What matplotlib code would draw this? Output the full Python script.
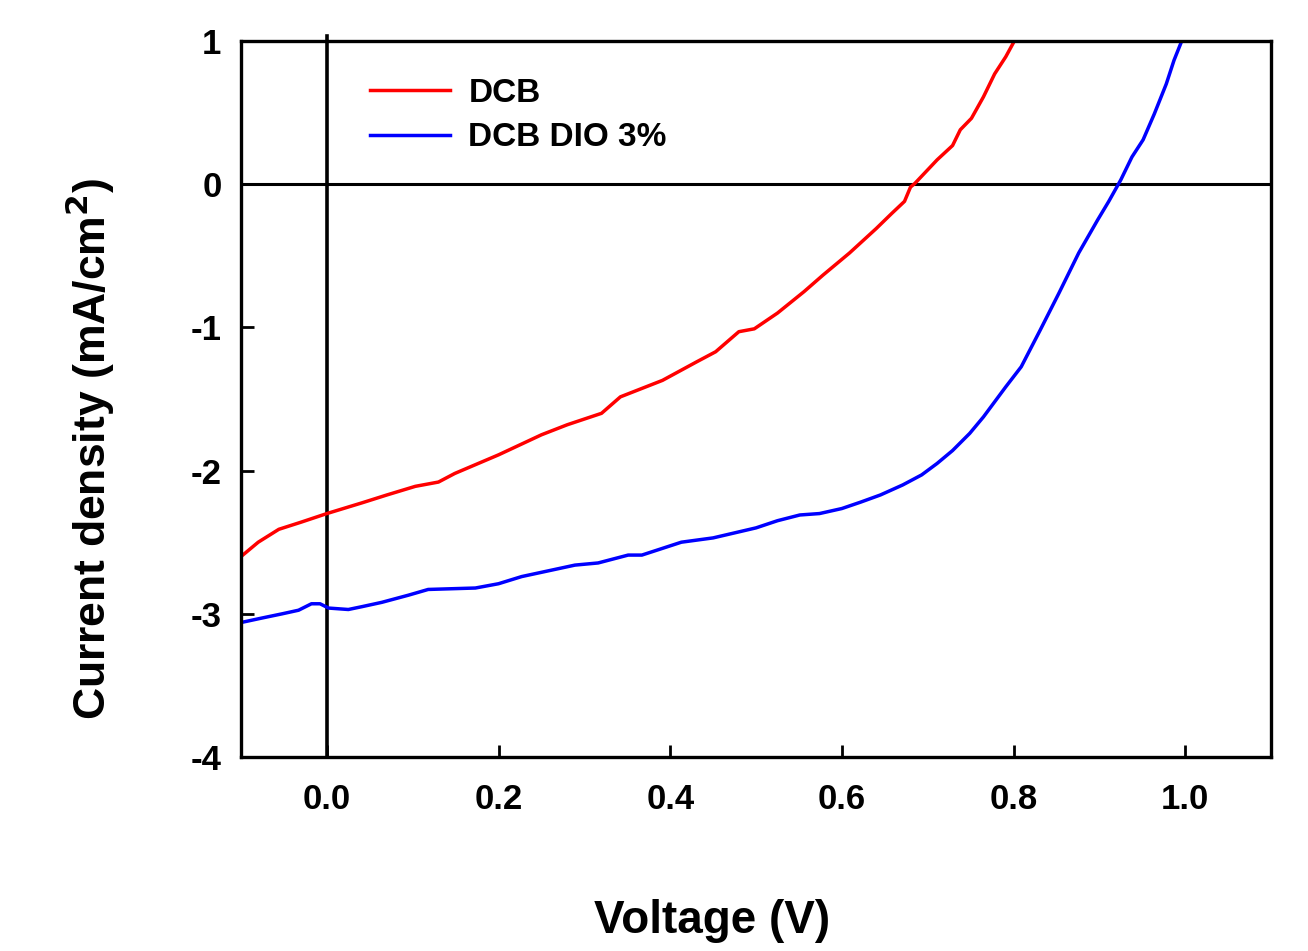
import matplotlib
matplotlib.use('Agg')
import matplotlib.pyplot as plt
import numpy as np

# J-V curves
v_dcb = [-0.100, -0.080, -0.056, -0.030, 0.000, 0.041, 0.070, 0.103, 0.130, 0.149,
         0.200, 0.250, 0.280, 0.320, 0.342, 0.391, 0.431, 0.453, 0.480, 0.498,
         0.525, 0.556, 0.578, 0.609, 0.640, 0.658, 0.673, 0.680, 0.685, 0.711,
         0.729, 0.738, 0.751, 0.765, 0.778, 0.791, 0.801]
j_dcb = [-2.60, -2.50, -2.41, -2.36, -2.30, -2.225, -2.17, -2.11, -2.08, -2.02,
         -1.89, -1.75, -1.68, -1.60, -1.485, -1.37, -1.24, -1.17, -1.03, -1.01,
         -0.90, -0.75, -0.635, -0.48, -0.31, -0.205, -0.12, -0.02, 0.005, 0.17,
         0.27, 0.38, 0.46, 0.61, 0.77, 0.89, 1.00]

v_dio = [-0.097, -0.076, -0.052, -0.033, -0.018, -0.008, 0.002, 0.025, 0.041, 0.064,
         0.095, 0.118, 0.173, 0.200, 0.227, 0.258, 0.289, 0.316, 0.351, 0.367,
         0.390, 0.413, 0.450, 0.500, 0.525, 0.551, 0.574, 0.600, 0.622, 0.645,
         0.671, 0.693, 0.711, 0.729, 0.749, 0.765, 0.791, 0.809, 0.831, 0.853,
         0.876, 0.898, 0.911, 0.925, 0.938, 0.951, 0.964, 0.978, 0.987, 0.996]
j_dio = [-3.057, -3.03, -3.00, -2.975, -2.93, -2.93, -2.96, -2.97, -2.95, -2.92,
         -2.87, -2.83, -2.82, -2.79, -2.74, -2.70, -2.66, -2.645, -2.59, -2.59,
         -2.545, -2.50, -2.47, -2.40, -2.35, -2.31, -2.30, -2.265, -2.22, -2.17,
         -2.10, -2.03, -1.95, -1.86, -1.74, -1.625, -1.415, -1.275, -1.02, -0.76,
         -0.48, -0.25, -0.12, 0.03, 0.19, 0.31, 0.49, 0.70, 0.865, 1.00]

x_ticks = [0.0, 0.2, 0.4, 0.6, 0.8, 1.0]
y_ticks = [1, 0, -1, -2, -3, -4]

plt.rcParams['font.family'] = ['Liberation Sans', 'DejaVu Sans']
plt.rcParams['font.weight'] = 'bold'

fig = plt.figure(figsize=(13.08, 9.51), dpi=100)
ax = fig.add_axes([0.1843, 0.204, 0.7874, 0.7529])

ax.plot(v_dcb, j_dcb, color='#ff0000', lw=2.5, label='DCB')
ax.plot(v_dio, j_dio, color='#0000ff', lw=2.5, label='DCB DIO 3%')

# reference lines at V=0 and J=0
ax.axhline(0, color='black', lw=2.2, zorder=1)
ax.plot([0, 0], [-4, 1.035], color='black', lw=2.6, clip_on=False, zorder=1)

ax.set_xlim(-0.1, 1.1)
ax.set_ylim(-4, 1)
ax.set_xticks(x_ticks)
ax.set_xticklabels(['%.1f' % t for t in x_ticks])
ax.set_yticks(y_ticks)
ax.set_yticklabels(['%d' % t for t in y_ticks])

for s in ax.spines.values():
    s.set_linewidth(2.4)
ax.tick_params(direction='in', length=9, width=2, labelsize=25)
ax.tick_params(axis='x', pad=19)
ax.tick_params(axis='y', pad=14)

ax.set_xlabel('Voltage (V)', fontsize=33, fontweight='bold')
ax.set_ylabel('Current density (mA/cm$^\\mathbf{2}$)', fontsize=32, fontweight='bold')
ax.xaxis.set_label_coords(0.457, -0.198)
ax.yaxis.set_label_coords(-0.12, 0.43)

ax.legend(loc='upper left', bbox_to_anchor=(0.096, 0.99), frameon=False,
          fontsize=24, handlelength=2.4, handletextpad=0.55, labelspacing=0.4)

fig.savefig('out.png', dpi=100)
